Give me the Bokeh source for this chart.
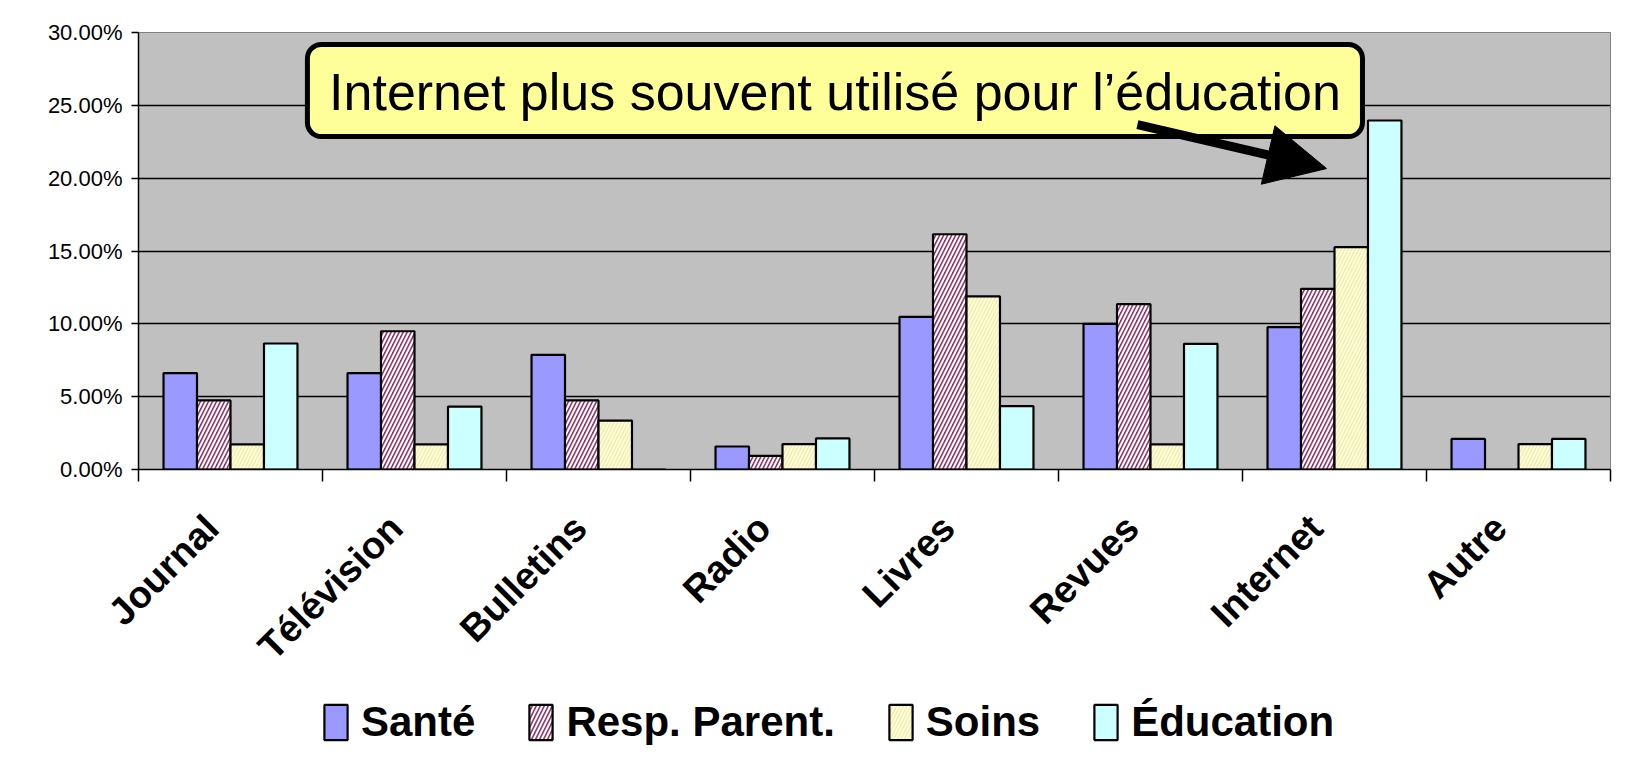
import numpy as np
from bokeh.plotting import figure
from bokeh.layouts import column
from bokeh.models import (Range1d, FixedTicker, PrintfTickFormatter, Legend, LegendItem,
                          BoxAnnotation, Label, Arrow, NormalHead, ColumnDataSource)
from bokeh.embed import file_html
from bokeh.resources import INLINE

# ---- data (percent) ----
categories = ["Journal", "Télévision", "Bulletins", "Radio", "Livres", "Revues", "Internet", "Autre"]
series_names = ["Santé", "Resp. Parent.", "Soins", "Éducation"]
sante = [6.61, 6.61, 7.87, 1.58, 10.48, 10.00, 9.77, 2.10]
resp_parent = [4.74, 9.49, 4.74, 0.94, 16.15, 11.35, 12.40, 0.00]
soins = [1.72, 1.72, 3.36, 1.74, 11.88, 1.72, 15.26, 1.74]
education = [8.65, 4.32, 0.00, 2.13, 4.35, 8.63, 23.96, 2.10]
y_ticks = [0, 5, 10, 15, 20, 25, 30]

annotation_text = "Internet plus souvent utilisé pour l’éducation"
# annotation box & arrow (data units)
box_left, box_right, box_bottom, box_top = 0.918, 6.652, 22.86, 29.18
label_x, label_y = 3.785, 25.9
arrow_x0, arrow_y0, arrow_x1, arrow_y1 = 5.429, 23.68, 6.457, 20.66

# ---- styles ----
styles = [
    dict(fill_color="#9999FF"),
    dict(fill_color="#993366", hatch_pattern="/", hatch_color="#FFFFFF", hatch_weight=2.0, hatch_scale=8),
    dict(fill_color="#FFFFDD", hatch_pattern="/", hatch_color="#F2EDB0", hatch_weight=1.5, hatch_scale=7),
    dict(fill_color="#CCFFFF"),
]

W = 1627
p = figure(width=W, height=690, output_backend="svg", toolbar_location=None,
           x_range=Range1d(0, len(categories)), y_range=Range1d(0, 30),
           min_border_left=138, min_border_right=17, min_border_top=32, min_border_bottom=221)

p.background_fill_color = "#C0C0C0"
p.border_fill_color = "white"
p.outline_line_color = "#808080"
p.outline_line_width = 1

# y axis
p.yaxis.ticker = FixedTicker(ticks=y_ticks, minor_ticks=[])
p.yaxis.formatter = PrintfTickFormatter(format="%.2f%%")
p.yaxis.major_label_text_font = "Liberation Sans"
p.yaxis.major_label_text_font_size = "22px"
p.yaxis.major_label_text_color = "black"
p.yaxis.major_tick_out = 7
p.yaxis.major_tick_in = 0
p.yaxis.major_label_standoff = 9
p.yaxis.axis_line_color = "black"
p.yaxis.axis_line_width = 1.5
p.yaxis.major_tick_line_width = 1.5

# x axis: (invisible) label ticks near category centers, tick marks at boundaries
n = len(categories)
label_pos = [round(i + 0.4, 3) for i in range(n)]
bounds = [float(i) for i in range(n + 1)]
p.xaxis.ticker = FixedTicker(ticks=label_pos, minor_ticks=bounds)
p.xaxis.major_label_overrides = {c: lab for c, lab in zip(label_pos, categories)}
p.xaxis.major_tick_out = 0
p.xaxis.major_tick_in = 0
p.xaxis.minor_tick_out = 12
p.xaxis.minor_tick_in = 0
p.xaxis.minor_tick_line_color = "black"
p.xaxis.minor_tick_line_width = 1.5
p.xaxis.axis_line_color = "black"
p.xaxis.axis_line_width = 1.5
p.xaxis.major_label_orientation = np.pi / 4
p.xaxis.major_label_text_font = "Liberation Sans"
p.xaxis.major_label_text_font_style = "bold"
p.xaxis.major_label_text_font_size = "38px"
p.xaxis.major_label_text_color = "black"
p.xaxis.major_label_standoff = 40

p.xgrid.grid_line_color = None
p.ygrid.grid_line_color = "black"
p.ygrid.grid_line_width = 1.5

# bars
bar_w = 0.182
values = [sante, resp_parent, soins, education]
for j, (vals, st) in enumerate(zip(values, styles)):
    xs = [i + 0.5 + (j - 1.5) * bar_w for i in range(n)]
    src = ColumnDataSource(dict(x=xs, top=vals))
    p.vbar(x="x", top="top", bottom=0, width=bar_w, source=src,
           line_color="black", line_width=2.2, **st)

# annotation
box = BoxAnnotation(left=box_left, right=box_right, bottom=box_bottom, top=box_top,
                    fill_color="#FFFF99", fill_alpha=1, line_color="black", line_width=5,
                    line_alpha=1, border_radius=14)
p.add_layout(box)
p.add_layout(Label(x=label_x, y=label_y, text=annotation_text, text_align="center",
                   text_baseline="middle", text_font="Liberation Sans", text_font_size="52px",
                   text_color="black"))
p.add_layout(Arrow(end=NormalHead(size=60, fill_color="black", line_color="black"),
                   x_start=arrow_x0, y_start=arrow_y0, x_end=arrow_x1, y_end=arrow_y1,
                   line_width=9, line_color="black"))

# ---- legend strip (separate figure beneath the chart) ----
lg = figure(width=W, height=56, output_backend="svg", toolbar_location=None,
            x_range=Range1d(0, 1), y_range=Range1d(0, 1),
            x_axis_location=None, y_axis_location=None,
            min_border_left=0, min_border_right=0, min_border_top=0, min_border_bottom=0)
lg.outline_line_color = None
lg.grid.grid_line_color = None
lg.background_fill_color = "white"
items = []
for nm, st in zip(series_names, styles):
    # swatch-only renderer (hidden; the legend still draws its swatch)
    src = ColumnDataSource(dict(x=[0.5], top=[0.5]))
    r = lg.vbar(x="x", top="top", bottom=0, width=0.1, source=src,
                line_color="black", line_width=2.2, **st)
    r.visible = False
    items.append(LegendItem(label=nm, renderers=[r]))
legend = Legend(items=items, orientation="horizontal", location=(183, 0),
                glyph_width=29, glyph_height=44, label_standoff=11, spacing=51,
                padding=0, margin=0, background_fill_alpha=0, border_line_alpha=0,
                label_text_font="Liberation Sans", label_text_font_style="bold",
                label_text_font_size="42px", label_text_color="black")
lg.add_layout(legend, "center")

layout = column(p, lg, spacing=0)
open("out.html", "w").write(file_html(layout, INLINE))
